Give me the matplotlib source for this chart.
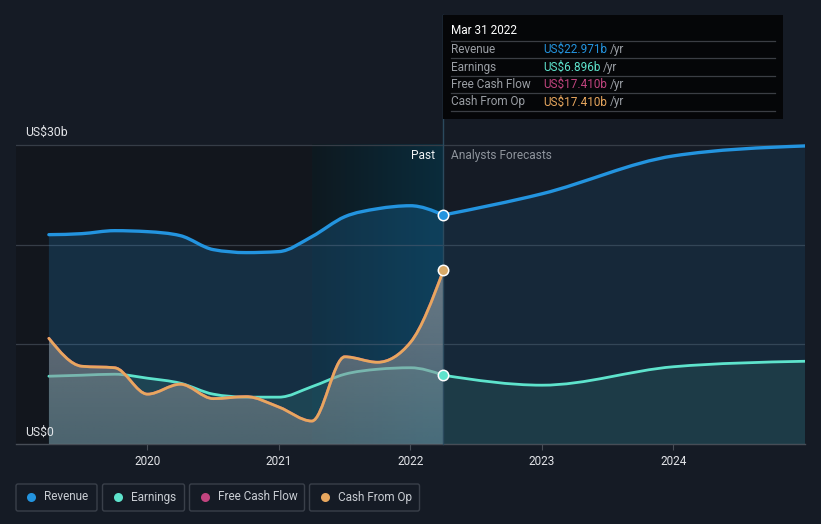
import numpy as np
import matplotlib
matplotlib.use("Agg")
import matplotlib.pyplot as plt
from matplotlib.path import Path
from matplotlib.patches import PathPatch, Rectangle, FancyBboxPatch
from matplotlib.colors import to_rgba

plt.rcParams['font.family'] = ['Roboto', 'DejaVu Sans']

# quarter ends as decimal years (Mar 2019 .. Mar 2022), then analyst years
past_x = [2019.25, 2019.5, 2019.75, 2020.0, 2020.25, 2020.5, 2020.75,
          2021.0, 2021.25, 2021.5, 2021.75, 2022.0, 2022.25]
revenue_past = [21.0, 21.1, 21.4, 21.3, 20.9, 19.5, 19.2, 19.3, 20.8, 22.8, 23.6, 23.9, 22.971]
earnings_past = [6.8, 6.9, 7.0, 6.6, 6.1, 5.0, 4.7, 4.7, 5.75, 7.0, 7.5, 7.65, 6.896]
fcf_past = [10.6, 7.8, 7.65, 5.0, 6.0, 4.55, 4.75, 3.7, 2.3, 8.75, 8.2, 10.2, 17.41]
cfo_past = [10.6, 7.8, 7.65, 5.0, 6.0, 4.55, 4.75, 3.7, 2.3, 8.75, 8.2, 10.2, 17.41]

fc_x = [2022.25, 2023.0, 2024.0, 2025.0]
revenue_fc = [22.971, 25.1, 28.9, 29.9]
earnings_fc = [6.896, 5.9, 7.75, 8.3]

year_ticks = [2020, 2021, 2022, 2023, 2024]
tooltip_rows = [("Revenue", "US$22.971b"), ("Earnings", "US$6.896b"),
                ("Free Cash Flow", "US$17.410b"), ("Cash From Op", "US$17.410b")]
legend_names = ["Revenue", "Earnings", "Free Cash Flow", "Cash From Op"]

BG = '#151b25'
C_REV = '#2394df'
C_EARN = '#5ee3cc'
C_FCF = '#c2447f'
C_CFO = '#e8a75e'


def smooth(xs, ys):
    # monotone cubic through the points, as bezier segments
    xs = np.asarray(xs, float)
    ys = np.asarray(ys, float)
    n = len(xs)
    h = np.diff(xs)
    s = np.diff(ys) / h
    m = np.zeros(n)
    for i in range(1, n - 1):
        p = (s[i - 1] * h[i] + s[i] * h[i - 1]) / (h[i - 1] + h[i])
        m[i] = (np.sign(s[i - 1]) + np.sign(s[i])) * min(abs(s[i - 1]), abs(s[i]), 0.5 * abs(p))
    if n > 2:
        m[0] = (3 * s[0] - m[1]) / 2
        m[-1] = (3 * s[-1] - m[-2]) / 2
    else:
        m[0] = m[-1] = s[0]
    verts = [(xs[0], ys[0])]
    codes = [Path.MOVETO]
    for i in range(n - 1):
        d = h[i] / 3
        verts += [(xs[i] + d, ys[i] + m[i] * d), (xs[i + 1] - d, ys[i + 1] - m[i + 1] * d),
                  (xs[i + 1], ys[i + 1])]
        codes += [Path.CURVE4] * 3
    return verts, codes


def draw_series(ax, xs, ys, color, lw, fill=None, z=3):
    verts, codes = smooth(xs, ys)
    if fill is not None:
        fv = verts + [(xs[-1], 0), (xs[0], 0), (xs[0], 0)]
        fc = codes + [Path.LINETO, Path.LINETO, Path.CLOSEPOLY]
        patch = PathPatch(Path(fv, fc), facecolor=fill, edgecolor='none', zorder=z)
        ax.add_patch(patch)
    ax.add_patch(PathPatch(Path(verts, codes), fill=False, edgecolor=color, lw=lw,
                           capstyle='round', joinstyle='round', zorder=z + 0.5))


def gradient_fill(ax, xs, ys, color, a_top, a_bot, z):
    verts, codes = smooth(xs, ys)
    fv = verts + [(xs[-1], 0), (xs[0], 0), (xs[0], 0)]
    fc = codes + [Path.LINETO, Path.LINETO, Path.CLOSEPOLY]
    patch = PathPatch(Path(fv, fc), facecolor='none', edgecolor='none', zorder=z)
    ax.add_patch(patch)
    r, g, b, _ = to_rgba(color)
    grad = np.zeros((100, 1, 4))
    grad[:, 0, 0], grad[:, 0, 1], grad[:, 0, 2] = r, g, b
    grad[:, 0, 3] = np.linspace(a_top, a_bot, 100)
    im = ax.imshow(grad, extent=[min(xs), max(xs), 0, max(ys)], aspect='auto',
                   interpolation='bilinear', zorder=z)
    im.set_clip_path(patch)


fig = plt.figure(figsize=(8.21, 5.24), dpi=100, facecolor=BG)
ax = fig.add_axes([16 / 821, 80 / 524, 789 / 821, 319 / 524])
ax.set_facecolor('none')

# darker past band and highlighted last year
ax.fill_between([2019.0, 2021.25], 0, 30, color='#12161d', lw=0, zorder=0)
hl = np.zeros((1, 100, 4))
c0 = np.array(to_rgba('#0e1920'))
c1 = np.array(to_rgba('#0a2c3c'))
for k in range(100):
    hl[0, k] = c0 + (c1 - c0) * k / 99
ax.imshow(hl, extent=[2021.25, 2022.25, 0, 30], aspect='auto', zorder=0.5)

for gy in [10, 20, 30]:
    ax.axhline(gy, color='#363d47', lw=0.9, zorder=1)

# revenue
draw_series(ax, past_x, revenue_past, C_REV, 2.4, fill=to_rgba(C_REV, 0.2), z=2)
draw_series(ax, fc_x, revenue_fc, C_REV, 2.4, fill=to_rgba(C_REV, 0.11), z=2)
# earnings
draw_series(ax, past_x, earnings_past, C_EARN, 2.0, fill=to_rgba(C_EARN, 0.12), z=3)
draw_series(ax, fc_x, earnings_fc, C_EARN, 2.0, fill=to_rgba(C_EARN, 0.1), z=3)
# free cash flow (same values as cash from op, sits underneath)
draw_series(ax, past_x, fcf_past, C_FCF, 2.0, z=4)
# cash from op
gradient_fill(ax, past_x, cfo_past, '#8e9196', 0.72, 0.42, z=5)
draw_series(ax, past_x, cfo_past, C_CFO, 2.0, z=5)

# end-of-past markers
ax.plot(past_x[-1], revenue_past[-1], 'o', ms=7.5, mfc=C_REV, mec='white', mew=1.1, zorder=8)
ax.plot(past_x[-1], earnings_past[-1], 'o', ms=7.5, mfc=C_EARN, mec='white', mew=1.1, zorder=8)
ax.plot(past_x[-1], cfo_past[-1], 'o', ms=7.5, mfc='#d9aa68', mec='white', mew=1.1, zorder=8)

ax.axvline(past_x[-1], ymin=0, ymax=(444 - 15) / 319, color='#2b4a5e', lw=1,
           clip_on=False, zorder=7)

ax.set_xlim(2019.0, 2025.0)
ax.set_ylim(0, 32)
for sp in ['top', 'right', 'left']:
    ax.spines[sp].set_visible(False)
ax.spines['bottom'].set_color('#474d56')
ax.spines['bottom'].set_linewidth(1)
ax.set_yticks([])
ax.set_xticks(year_ticks)
ax.set_xticklabels([str(y) for y in year_ticks])
ax.tick_params(axis='x', length=4, color='#474d56', labelcolor='#e2e4e8',
               labelsize=8.5, pad=4)

ax.text(2019.07, 31.3, "US$30b", color='#e2e4e8', fontsize=8.8, va='center', ha='left')
ax.text(2019.07, 1.2, "US$0", color='#e2e4e8', fontsize=8.8, va='center', ha='left', zorder=9)
ax.text(2022.19, 28.9, "Past", color='#f0f2f4', fontsize=8.6, va='center', ha='right', zorder=9)
ax.text(2022.31, 28.9, "Analysts Forecasts", color='#8e949c', fontsize=8.6,
        va='center', ha='left', zorder=9)

# overlay in pixel coords for tooltip and legend
ov = fig.add_axes([0, 0, 1, 1])
ov.set_xlim(0, 821)
ov.set_ylim(524, 0)
ov.axis('off')
ov.set_facecolor('none')

ov.add_patch(Rectangle((443, 15), 340, 104, facecolor='#050608', edgecolor='none'))
ov.text(451, 31, "Mar 31 2022", color='white', fontsize=8.5, va='center')
sep_y = [41, 58, 75.5, 93, 110.5]
for yy in sep_y:
    ov.plot([451, 775], [yy, yy], color='#3b3e44', lw=0.9)
row_colors = [C_REV, C_EARN, C_FCF, C_CFO]
row_y = [49.5, 67, 84.5, 102]
renderer = fig.canvas.get_renderer()
for (lab, val), col, yy in zip(tooltip_rows, row_colors, row_y):
    ov.text(451, yy, lab, color='#9a9ea4', fontsize=8.5, va='center')
    t = ov.text(543, yy, val, color=col, fontsize=8.5, va='center')
    bb = t.get_window_extent(renderer)
    x_end = ov.transData.inverted().transform((bb.x1, bb.y0))[0]
    ov.text(x_end + 3, yy, "/yr", color='#9a9ea4', fontsize=8.5, va='center')

box_x = [16, 102.5, 189.5, 309.5]
box_w = [81, 82, 115, 110]
for name, col, bx, bw in zip(legend_names, row_colors, box_x, box_w):
    ov.add_patch(FancyBboxPatch((bx, 484), bw, 27, boxstyle='round,pad=0,rounding_size=2',
                                facecolor='none', edgecolor='#3a404a', lw=1))
    ov.plot(bx + 15.3, 497, 'o', ms=6.5, color=col, mec='none')
    ov.text(bx + 28, 497, name, color='#c9cdd3', fontsize=8.5, va='center')

fig.savefig('out.png', dpi=100, facecolor=BG)
